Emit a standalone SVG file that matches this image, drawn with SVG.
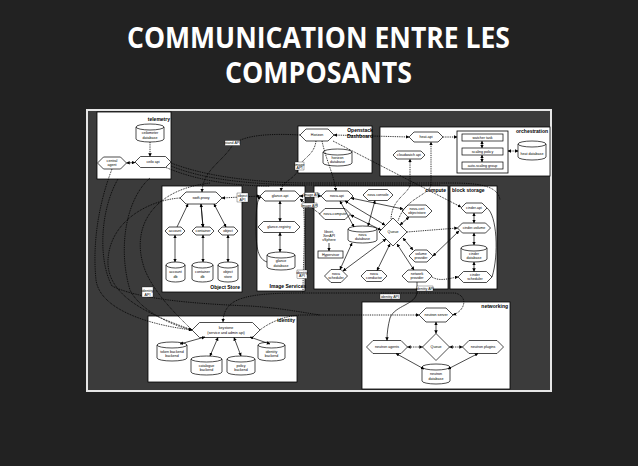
<svg xmlns="http://www.w3.org/2000/svg" width="638" height="466" viewBox="0 0 638 466">
<defs>
<style>
.box{fill:#fff;stroke:#000;stroke-width:0.8}
.n{fill:#fff;stroke:#000;stroke-width:0.7}
.t{font-family:"Liberation Sans",Arial,sans-serif;font-size:3.6px;text-anchor:middle;fill:#000}
.g{font-family:"Liberation Sans",Arial,sans-serif;font-size:5px;font-weight:bold;fill:#000}
.s{fill:none;stroke:#000;stroke-width:0.7}
.d{fill:none;stroke:#000;stroke-width:0.9;stroke-dasharray:0.9 0.9}
.lb{fill:#fff;stroke:#000;stroke-width:0.3}
.title{font-family:"Open Sans","Liberation Sans",sans-serif;font-size:28px;font-weight:bold;fill:#fff;text-anchor:middle}
</style>
<marker id="a" viewBox="0 0 6 6" refX="5.5" refY="3" markerUnits="userSpaceOnUse" markerWidth="3.5" markerHeight="3.5" orient="auto-start-reverse"><path d="M0,0 L6,3 L0,6 z" fill="#000"/></marker>
</defs>
<rect x="0" y="0" width="638" height="466" fill="#222"/>
<text class="title" x="318.5" y="48" textLength="383" lengthAdjust="spacingAndGlyphs">COMMUNICATION ENTRE LES</text>
<text class="title" x="318.5" y="83" textLength="187" lengthAdjust="spacingAndGlyphs">COMPOSANTS</text>
<rect x="87" y="110" width="464" height="281" fill="#3b3b3b" stroke="#e6e6e6" stroke-width="2"/>

<g id="telemetry">
<rect class="box" x="97" y="112" width="74" height="67"/>
<text class="g" x="170" y="121" text-anchor="end">telemetry</text>
<path class="n" d="M136 127 v12 a14 3 0 0 0 28 0 v-12 a14 3 0 0 0 -28 0 a14 3 0 0 0 28 0"/>
<text class="t" x="150" y="134">ceilometer</text><text class="t" x="150" y="138.5">database</text>
<polygon class="n" points="135,162 140.5,156.5 165.5,156.5 171,162 165.5,167.5 140.5,167.5"/>
<text class="t" x="153" y="163.3">ceilo api</text>
<polygon class="n" points="97.5,163 103.5,157 120.5,157 126.5,163 120.5,169 103.5,169"/>
<text class="t" x="112" y="162">central</text><text class="t" x="112" y="166">agent</text>
</g>

<g id="dashboard">
<rect class="box" x="298" y="126" width="74" height="47"/>
<text class="g" x="360" y="131.5" text-anchor="middle">Openstack</text>
<text class="g" x="360" y="138" text-anchor="middle">Dashboard</text>
<polygon class="n" points="300,135 306,129 328,129 334,135 328,141 306,141"/>
<text class="t" x="317" y="136.3">Horizon</text>
<path class="n" d="M323 152 v11 a14.5 3 0 0 0 29 0 v-11 a14.5 3 0 0 0 -29 0 a14.5 3 0 0 0 29 0"/>
<text class="t" x="337.5" y="158.5">horizon</text><text class="t" x="337.5" y="163">database</text>
</g>

<g id="orchestration">
<rect class="box" x="380" y="127" width="170" height="49"/>
<text class="g" x="548" y="133" text-anchor="end" font-weight="normal">orchestration</text>
<polygon class="n" points="409,137 414,132 438,132 443,137 438,142 414,142"/>
<text class="t" x="426" y="138.3">heat-api</text>
<polygon class="n" points="393,155 397,151 421,151 425,155 421,159 397,159"/>
<text class="t" x="409" y="156.2">cloudwatch api</text>
<rect class="box" x="457" y="131" width="51" height="42"/>
<rect class="n" x="462" y="134" width="41" height="7"/><text class="t" x="482.5" y="138.8">watcher task</text>
<rect class="n" x="462" y="148" width="41" height="7"/><text class="t" x="482.5" y="152.8">scaling policy</text>
<rect class="n" x="462" y="162" width="41" height="7"/><text class="t" x="482.5" y="166.8">auto-scaling group</text>
<path class="n" d="M518 144 v13 a14 3 0 0 0 28 0 v-13 a14 3 0 0 0 -28 0 a14 3 0 0 0 28 0"/>
<text class="t" x="532" y="155">heat database</text>
</g>

<g id="object-store">
<rect class="box" x="162" y="186" width="80" height="106"/>
<text class="g" x="240" y="289" text-anchor="end">Object Store</text>
<polygon class="n" points="180,198 186,192 216,192 222,198 216,204 186,204"/>
<text class="t" x="201" y="199.3">swift-proxy</text>
<polygon class="n" points="165,231 169,227 181,227 185,231 181,235 169,235"/>
<text class="t" x="175" y="232.3">account</text>
<polygon class="n" points="192,231 196,227 210,227 214,231 210,235 196,235"/>
<text class="t" x="203" y="232.3">container</text>
<polygon class="n" points="218,231 222,227 234,227 238,231 234,235 222,235"/>
<text class="t" x="228" y="232.3">object</text>
<path class="n" d="M166 265 v14 a9.5 3 0 0 0 19 0 v-14 a9.5 3 0 0 0 -19 0 a9.5 3 0 0 0 19 0"/>
<text class="t" x="175.5" y="273">account</text><text class="t" x="175.5" y="277.5">db</text>
<path class="n" d="M192 265 v14 a10.5 3 0 0 0 21 0 v-14 a10.5 3 0 0 0 -21 0 a10.5 3 0 0 0 21 0"/>
<text class="t" x="202.5" y="273">container</text><text class="t" x="202.5" y="277.5">db</text>
<path class="n" d="M218 265 v14 a10 3 0 0 0 20 0 v-14 a10 3 0 0 0 -20 0 a10 3 0 0 0 20 0"/>
<text class="t" x="228" y="273">object</text><text class="t" x="228" y="277.5">store</text>
</g>

<g id="image-services">
<rect class="box" x="257" y="186" width="48" height="105"/>
<text class="g" x="306" y="288" text-anchor="end">Image Services</text>
<polygon class="n" points="260,196 265,191 295,191 300,196 295,201 265,201"/>
<text class="t" x="280" y="197.3">glance-api</text>
<polygon class="n" points="258,227 263.5,221.5 294.5,221.5 300,227 294.5,232.5 263.5,232.5"/>
<text class="t" x="279" y="228.3">glance-registry</text>
<path class="n" d="M267 255 v12 a14 3 0 0 0 28 0 v-12 a14 3 0 0 0 -28 0 a14 3 0 0 0 28 0"/>
<text class="t" x="281" y="262">glance</text><text class="t" x="281" y="266.5">database</text>
</g>

<g id="compute">
<rect class="box" x="314" y="186" width="134" height="103"/>
<text class="g" x="446" y="192" text-anchor="end">compute</text>
<polygon class="n" points="321,196 326,191 348,191 353,196 348,201 326,201"/>
<text class="t" x="337" y="197.3">nova-api</text>
<polygon class="n" points="363,195 368.5,189.5 387.5,189.5 393,195 387.5,200.5 368.5,200.5"/>
<text class="t" x="378" y="196.3">nova console</text>
<polygon class="n" points="319.5,214 325,208.5 345,208.5 350.5,214 345,219.5 325,219.5"/>
<text class="t" x="335" y="215.3">nova-compute</text>
<polygon class="n" points="402,211 408,205 426,205 432,211 426,217 408,217"/>
<text class="t" x="417" y="210">nova-cert</text><text class="t" x="417" y="214">objectstore</text>
<path class="n" d="M348 229 v11 a14.5 3 0 0 0 29 0 v-11 a14.5 3 0 0 0 -29 0 a14.5 3 0 0 0 29 0"/>
<text class="t" x="362.5" y="235.5">nova</text><text class="t" x="362.5" y="240">database</text>
<polygon class="n" points="379,232 393,218 407,232 393,246"/>
<text class="t" x="393" y="233.3">Queue</text>
<text class="t" x="329" y="233">libvirt,</text><text class="t" x="329" y="237">XenAPI</text><text class="t" x="329" y="241">vSphere</text>
<rect class="n" x="318" y="251" width="25" height="7"/><text class="t" x="330.5" y="255.8">Hypervisor</text>
<polygon class="n" points="324.5,276 331,269.5 341,269.5 347.5,276 341,282.5 331,282.5"/>
<text class="t" x="336" y="275">nova</text><text class="t" x="336" y="279">scheduler</text>
<polygon class="n" points="361,276 366.5,270.5 381.5,270.5 387,276 381.5,281.5 366.5,281.5"/>
<text class="t" x="374" y="275">nova</text><text class="t" x="374" y="279">conductor</text>
<polygon class="n" points="402,276 408,270 426,270 432,276 426,282 408,282"/>
<text class="t" x="417" y="275">network</text><text class="t" x="417" y="279">provider</text>
<polygon class="n" points="409,256 415,250 427,250 433,256 427,262 415,262"/>
<text class="t" x="421" y="255">volume</text><text class="t" x="421" y="259">provider</text>
</g>

<g id="block-storage">
<rect class="box" x="450" y="186" width="47" height="103"/>
<text class="g" x="452" y="192" font-weight="normal">block storage</text>
<polygon class="n" points="461,208 466,203 482,203 487,208 482,213 466,213"/>
<text class="t" x="474" y="209.3">cinder-api</text>
<polygon class="n" points="457.5,228 462.5,223 485.5,223 490.5,228 485.5,233 462.5,233"/>
<text class="t" x="474" y="229.3">cinder-volume</text>
<path class="n" d="M461 248 v11 a13 3 0 0 0 26 0 v-11 a13 3 0 0 0 -26 0 a13 3 0 0 0 26 0"/>
<text class="t" x="474" y="254.5">cinder</text><text class="t" x="474" y="259">database</text>
<polygon class="n" points="458,277 463.5,271.5 486.5,271.5 492,277 486.5,282.5 463.5,282.5"/>
<text class="t" x="475" y="276">cinder</text><text class="t" x="475" y="280">scheduler</text>
</g>

<g id="identity">
<rect class="box" x="148" y="316" width="149" height="66"/>
<text class="g" x="295" y="322" text-anchor="end">identity</text>
<polygon class="n" points="192,330 199.5,322.5 252.5,322.5 260,330 252.5,337.5 199.5,337.5"/>
<text class="t" x="226" y="329">keystone</text><text class="t" x="226" y="333.5">(service and admin api)</text>
<path class="n" d="M157 345 v13 a15 3 0 0 0 30 0 v-13 a15 3 0 0 0 -30 0 a15 3 0 0 0 30 0"/>
<text class="t" x="172" y="352.5">token backend</text><text class="t" x="172" y="357">backend</text>
<path class="n" d="M191 359 v13 a15.5 3 0 0 0 31 0 v-13 a15.5 3 0 0 0 -31 0 a15.5 3 0 0 0 31 0"/>
<text class="t" x="206.5" y="366.5">catalogue</text><text class="t" x="206.5" y="371">backend</text>
<path class="n" d="M227 359 v13 a14 3 0 0 0 28 0 v-13 a14 3 0 0 0 -28 0 a14 3 0 0 0 28 0"/>
<text class="t" x="241" y="366.5">policy</text><text class="t" x="241" y="371">backend</text>
<path class="n" d="M258 345 v13 a13.5 3 0 0 0 27 0 v-13 a13.5 3 0 0 0 -27 0 a13.5 3 0 0 0 27 0"/>
<text class="t" x="271.5" y="352.5">identity</text><text class="t" x="271.5" y="357">backend</text>
</g>

<g id="networking">
<rect class="box" x="362" y="302" width="148" height="87"/>
<text class="g" x="508" y="308" text-anchor="end" font-weight="normal">networking</text>
<polygon class="n" points="419,315 426,308 446,308 453,315 446,322 426,322"/>
<text class="t" x="436" y="316.3">neutron server</text>
<polygon class="n" points="366.5,347 373,340.5 401,340.5 407.5,347 401,353.5 373,353.5"/>
<text class="t" x="387" y="348.3">neutron agents</text>
<polygon class="n" points="422.5,347 436,333.5 449.5,347 436,360.5"/>
<text class="t" x="436" y="348.3">Queue</text>
<polygon class="n" points="462.5,347 469,340.5 497,340.5 503.5,347 497,353.5 469,353.5"/>
<text class="t" x="483" y="348.3">neutron plugins</text>
<path class="n" d="M422 367 v14 a14 3 0 0 0 28 0 v-14 a14 3 0 0 0 -28 0 a14 3 0 0 0 28 0"/>
<text class="t" x="436" y="375">neutron</text><text class="t" x="436" y="379.5">database</text>
</g>

<g id="connectors">
<!-- internal solid -->
<path class="s" marker-start="url(#a)" marker-end="url(#a)" d="M188,204 L177,227 M201,204 L203,227"/>
<path class="s" marker-start="url(#a)" marker-end="url(#a)" d="M201,204 L203,227"/>
<path class="s" marker-start="url(#a)" marker-end="url(#a)" d="M214,204 L226,227"/>
<path class="s" marker-start="url(#a)" marker-end="url(#a)" d="M175,235 L175,262"/>
<path class="s" marker-start="url(#a)" marker-end="url(#a)" d="M203,235 L203,262"/>
<path class="s" marker-start="url(#a)" marker-end="url(#a)" d="M228,235 L228,262"/>
<path class="s" marker-start="url(#a)" marker-end="url(#a)" d="M280,201 L280,221.5"/>
<path class="s" marker-start="url(#a)" marker-end="url(#a)" d="M280,232.5 L280,252"/>
<path class="s" marker-end="url(#a)" d="M267,262 C258,259 256,248 256,228 C256,208 257,199 261,197"/>
<path class="s" marker-start="url(#a)" marker-end="url(#a)" d="M351,198 L403,209"/>
<path class="s" marker-start="url(#a)" marker-end="url(#a)" d="M345,201 L385,225"/>
<path class="s" marker-start="url(#a)" marker-end="url(#a)" d="M340,201 L354,227"/>
<path class="s" marker-start="url(#a)" marker-end="url(#a)" d="M375,200.5 L368,226"/>
<path class="s" marker-start="url(#a)" marker-end="url(#a)" d="M350.5,215 L381,230"/>
<path class="s" marker-start="url(#a)" marker-end="url(#a)" d="M352,243 L340,269.5"/>
<path class="s" marker-start="url(#a)" marker-end="url(#a)" d="M386,239 L343,271"/>
<path class="s" marker-start="url(#a)" marker-end="url(#a)" d="M390,244 L377,270.5"/>
<path class="s" marker-start="url(#a)" marker-end="url(#a)" d="M397,244 L414,270"/>
<path class="s" marker-start="url(#a)" marker-end="url(#a)" d="M403,238 L413,250"/>
<path class="s" marker-start="url(#a)" marker-end="url(#a)" d="M400,225 L409,217"/>
<path class="s" marker-end="url(#a)" d="M329,243 L329,251"/>
<path class="s" marker-start="url(#a)" marker-end="url(#a)" d="M433,256 L459,231"/>
<path class="s" marker-start="url(#a)" marker-end="url(#a)" d="M474,213 L474,223"/>
<path class="s" marker-start="url(#a)" marker-end="url(#a)" d="M474,233 L474,245"/>
<path class="s" marker-start="url(#a)" marker-end="url(#a)" d="M474,262 L474,271.5"/>
<path class="s" d="M487,208 C497,215 499,255 492,277" stroke="#777"/>
<path class="s" marker-start="url(#a)" marker-end="url(#a)" d="M205,337 L180,344"/>
<path class="s" marker-start="url(#a)" marker-end="url(#a)" d="M218,337.5 L210,356"/>
<path class="s" marker-start="url(#a)" marker-end="url(#a)" d="M234,337.5 L241,356"/>
<path class="s" marker-start="url(#a)" marker-end="url(#a)" d="M250,337 L270,344"/>
<path class="s" marker-start="url(#a)" marker-end="url(#a)" d="M436,322 L436,333.5"/>
<path class="d" marker-start="url(#a)" marker-end="url(#a)" d="M407.5,347 L422.5,347"/>
<path class="d" marker-start="url(#a)" marker-end="url(#a)" d="M449.5,347 L462.5,347"/>
<path class="s" marker-start="url(#a)" marker-end="url(#a)" d="M396,353.5 L424,369"/>
<path class="s" marker-start="url(#a)" marker-end="url(#a)" d="M478,353.5 L448,369"/>
<path class="d" marker-end="url(#a)" d="M150,142 L150,156.5"/>
<path class="s" marker-start="url(#a)" marker-end="url(#a)" d="M135,162.5 L126.5,163"/>
<path class="s" marker-start="url(#a)" marker-end="url(#a)" d="M482,141 L482,148"/>
<path class="s" marker-start="url(#a)" marker-end="url(#a)" d="M482,155 L482,162"/>
<path class="d" marker-start="url(#a)" marker-end="url(#a)" d="M508,151 L518,151"/>
<path class="d" marker-end="url(#a)" d="M443,137 L457,137"/>
<!-- inter-group dotted -->
<path class="d" marker-start="url(#a)" marker-end="url(#a)" d="M334,135 L409,137"/>
<path class="d" marker-end="url(#a)" d="M316,141 C314,156 302,158 299,167 C296,180 282,180 281,191"/>
<path class="d" marker-end="url(#a)" d="M300,135 C265,133 240,136 232,146 C222,162 203,170 202,192"/>
<path class="d" marker-end="url(#a)" d="M333,141 L461,207"/>
<path class="d" marker-end="url(#a)" d="M322,141 C326,160 334,175 336,191"/>
<path class="d" marker-end="url(#a)" d="M431,185 C431,170 431,155 431,142"/>
<path class="d" marker-end="url(#a)" d="M410,186 C410,175 410,168 410,159"/>
<path class="d" d="M431,185 C428,196 405,198 398,221 M410,186 C405,196 392,200 391,219"/>
<path class="d" marker-start="url(#a)" marker-end="url(#a)" d="M300,196 L321,196"/>
<path class="d" marker-end="url(#a)" d="M320,214 L300,199"/>
<path class="d" marker-start="url(#a)" marker-end="url(#a)" d="M222,198 L260,196"/>
<path class="d" marker-end="url(#a)" d="M407,232 L457.5,228"/>
<path class="d" marker-end="url(#a)" d="M432,277 C440,282 450,278 458,277"/>
<path class="d" d="M171,163 C210,178 260,182 300,183 L445,183 C470,183 498,183 500,200"/>
<path class="d" d="M171,166 C205,180 250,184 300,185 L440,185"/>
<path class="d" d="M166,167.5 C200,182 240,186 270,186"/>
<path class="d" marker-end="url(#a)" d="M112,169 C100,200 92,240 96,280 C100,310 150,325 192,330"/>
<path class="d" marker-end="url(#a)" d="M180,198 C150,200 110,220 108,260 C106,300 160,318 192,330"/>
<path class="d" d="M150,178 C125,200 118,250 130,290 C140,310 170,325 192,330"/>
<path class="d" d="M210,183 C150,190 130,230 145,270 C155,295 180,318 192,330"/>
<path class="d" d="M118,179 C100,210 98,260 112,286 C140,300 200,304 250,306 C280,308 300,312 320,315"/>
<path class="d" marker-end="url(#a)" d="M260,330 C270,322 285,316 300,315 L419,315"/>
<path class="d" marker-start="url(#a)" marker-end="url(#a)" d="M453,315 C466,310 468,296 455,293 L300,293 C240,293 224,300 223,322"/>
<path class="d" d="M303,201 C306,230 303,260 303,293"/>
<path class="s" marker-end="url(#a)" stroke-width="0.9" d="M417,282 L417,292 C416,305 395,305 390,318 C388,326 387,332 387,340.5"/>
<!-- labels -->
<rect class="lb" x="225" y="140.5" width="15" height="5"/><text class="t" x="232.5" y="144.2">stand API</text>
<rect class="lb" x="295" y="162" width="9" height="8"/><text class="t" x="299.5" y="165.5">image</text><text class="t" x="299.5" y="169">API</text>
<rect class="lb" x="237" y="193" width="11" height="9"/><text class="t" x="242.5" y="197">object</text><text class="t" x="242.5" y="200.8">API</text>
<rect class="lb" x="305" y="192.5" width="13" height="4.5"/><text class="t" x="311.5" y="196">Image API</text>
<rect class="lb" x="302" y="203" width="15" height="4.5"/><text class="t" x="309.5" y="206.5">Image API</text>
<rect class="lb" x="297" y="270" width="10" height="8.5"/><text class="t" x="302" y="273.5">identity</text><text class="t" x="302" y="277.3">API</text>
<rect class="lb" x="142" y="287" width="11" height="10"/><text class="t" x="147.5" y="291.5">identity</text><text class="t" x="147.5" y="295.5">API</text>
<rect class="lb" x="417" y="286" width="16" height="5"/><text class="t" x="425" y="289.8">identity API</text>
<rect class="lb" x="380" y="294" width="20" height="5"/><text class="t" x="390" y="297.8">identity API</text>
</g>
</svg>
